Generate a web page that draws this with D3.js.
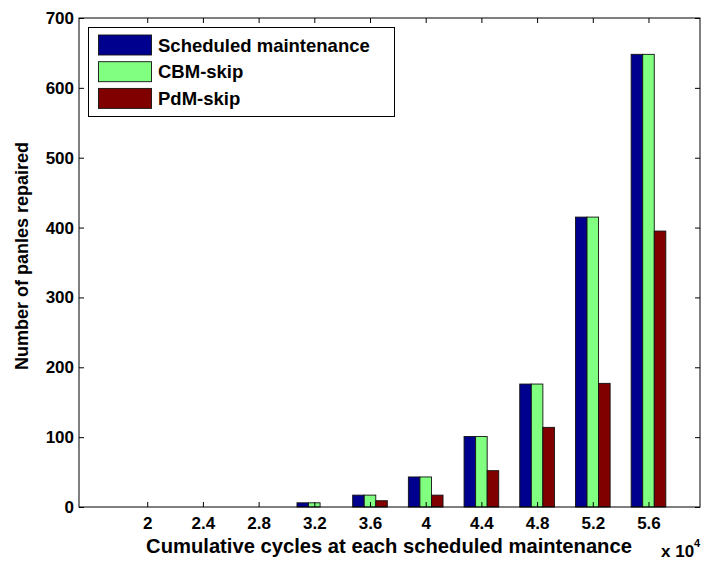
<!DOCTYPE html>
<html>
<head>
<meta charset="utf-8">
<script src="https://cdn.jsdelivr.net/npm/d3@7"></script>
<style>
  body { margin: 0; background: #fff; }
  text { font-family: "Liberation Sans", Arial, sans-serif; font-weight: bold; fill: #000; }
</style>
</head>
<body>
<svg id="chart" width="704" height="561"></svg>
<script>
// data (x in units of 10^4 cycles)
const cycles = [2, 2.4, 2.8, 3.2, 3.6, 4, 4.4, 4.8, 5.2, 5.6];
const scheduled = [0, 0, 0, 6, 17, 43, 101, 176, 415, 648];
const cbmSkip = [0, 0, 0, 6, 17, 43, 101, 176, 415, 648];
const pdmSkip = [0, 0, 0, 0, 9, 17, 52, 114, 177, 395];
const seriesNames = ["Scheduled maintenance", "CBM-skip", "PdM-skip"];
const seriesColors = ["#00008f", "#80ff80", "#800000"];
const yTicks = [0, 100, 200, 300, 400, 500, 600, 700];

const svg = d3.select("#chart");

// plot box
const box = { left: 79, right: 700, top: 18, bottom: 507 };

const x = d3.scaleLinear()
    .domain([1.51, 5.97])
    .range([box.left, box.right]);

const y = d3.scaleLinear()
    .domain([0, 700])
    .range([box.bottom, box.top]);

// offset of each series inside a group, in data units
const barW = 0.083;
const sub = d3.scaleBand()
    .domain(seriesNames)
    .range([-1.5 * barW, 1.5 * barW]);

const allSeries = [scheduled, cbmSkip, pdmSkip];
const bars = [];
cycles.forEach((c, i) => {
    seriesNames.forEach((s, k) => {
        bars.push({ c: c, s: s, k: k, v: allSeries[k][i] });
    });
});

const plot = svg.append("g");

plot.selectAll("rect.bar")
    .data(bars)
    .enter()
    .append("rect")
        .attr("class", "bar")
        .attr("x", d => x(d.c + sub(d.s)))
        .attr("width", d => x(d.c + sub(d.s) + sub.bandwidth()) - x(d.c + sub(d.s)))
        .attr("y", d => y(d.v))
        .attr("height", d => y(0) - y(d.v))
        .style("fill", d => seriesColors[d.k])
        .style("stroke", "#111")
        .style("stroke-width", 0.9);

// axes, ticks drawn inward on all four sides (matlab "box on")
const tickLen = 5;

const xBottom = d3.axisBottom(x).tickValues(cycles).tickSize(-tickLen).tickPadding(10)
    .tickFormat(d3.format("~g"));
const xTop = d3.axisTop(x).tickValues(cycles).tickSize(-tickLen).tickFormat("");
const yLeft = d3.axisLeft(y).tickValues(yTicks).tickSize(-tickLen).tickPadding(5);
const yRight = d3.axisRight(y).tickValues(yTicks).tickSize(-tickLen).tickFormat("");

function styleAxis(g) {
    g.select(".domain").remove();
    g.selectAll(".tick line").style("stroke", "#000");
    g.selectAll(".tick text")
        .style("font-size", "17px")
        .style("font-family", "'Liberation Sans', Arial, sans-serif")
        .style("font-weight", "bold");
}

svg.append("g").attr("transform", `translate(0,${box.bottom})`).call(xBottom).call(styleAxis);
svg.append("g").attr("transform", `translate(0,${box.top})`).call(xTop).call(styleAxis);
svg.append("g").attr("transform", `translate(${box.left},0)`).call(yLeft).call(styleAxis);
svg.append("g").attr("transform", `translate(${box.right},0)`).call(yRight).call(styleAxis);

svg.append("rect")
    .attr("x", box.left)
    .attr("y", box.top)
    .attr("width", box.right - box.left)
    .attr("height", box.bottom - box.top)
    .style("fill", "none")
    .style("stroke", "#000")
    .style("stroke-width", 1);

// axis labels
svg.append("text")
    .attr("x", 389)
    .attr("y", 553)
    .attr("text-anchor", "middle")
    .style("font-size", "20.2px")
    .text("Cumulative cycles at each scheduled maintenance");

svg.append("text")
    .attr("transform", "translate(28,256) rotate(-90)")
    .attr("text-anchor", "middle")
    .style("font-size", "18px")
    .text("Number of panles repaired");

const mult = svg.append("text")
    .attr("x", 661)
    .attr("y", 557)
    .style("font-size", "17px");
mult.append("tspan").text("x 10");
mult.append("tspan").attr("dy", -10).style("font-size", "11px").text("4");

// legend
const legend = svg.append("g");

legend.append("rect")
    .attr("x", 88.5)
    .attr("y", 27.5)
    .attr("width", 306)
    .attr("height", 89)
    .style("fill", "#fff")
    .style("stroke", "#000")
    .style("stroke-width", 1);

seriesNames.forEach((s, k) => {
    legend.append("rect")
        .attr("x", 98.5)
        .attr("y", 35 + k * 26.7)
        .attr("width", 53)
        .attr("height", 20)
        .style("fill", seriesColors[k])
        .style("stroke", "#111")
        .style("stroke-width", 0.9);
    legend.append("text")
        .attr("x", 158)
        .attr("y", 51.5 + k * 26.7)
        .style("font-size", "18.5px")
        .text(s);
});
</script>
</body>
</html>
